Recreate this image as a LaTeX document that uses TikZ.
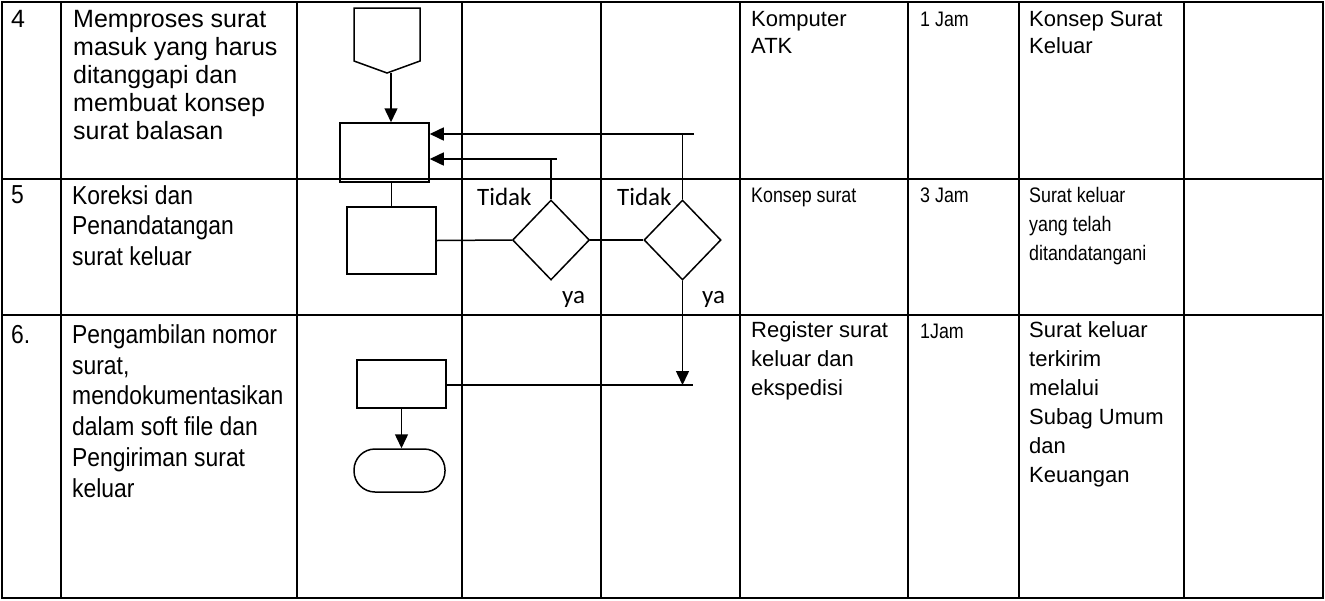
\documentclass[tikz,border=0pt]{standalone}
\usepackage{fontspec}
\setmainfont{Liberation Sans}
\newfontfamily\narrowfont[FakeStretch=0.85]{Liberation Sans}
\newfontfamily\leftnarrow[FakeStretch=0.88]{Liberation Sans}
\newfontfamily\calib{Carlito}
\usetikzlibrary{shapes.geometric,arrows.meta}
\tikzset{
  tbl/.style={line width=1.8pt},
  tblthin/.style={line width=1.1pt},
  flow/.style={line width=1.5pt},
  arr/.style={flow,-{Triangle[length=14pt,width=13pt]}},
  procbox/.style={draw, flow, rectangle, inner sep=0pt},
  dec/.style={draw, flow, diamond, inner sep=0pt, minimum width=77pt, minimum height=80pt},
  term/.style={draw, flow, rectangle, rounded corners=21pt, inner sep=0pt, minimum width=91pt, minimum height=43pt},
  txt/.style={anchor=north west, inner sep=0pt, align=left},
  one/.style={anchor=base west, inner sep=0pt},
  lbl/.style={anchor=base west, inner sep=0pt, font=\calib\fontsize{25}{30}\selectfont},
  reg25/.style={font=\fontsize{25}{28}\selectfont},
  reg22a/.style={font=\fontsize{22}{27}\selectfont},
  reg22b/.style={font=\fontsize{22}{29}\selectfont},
  nar21/.style={font=\narrowfont\fontsize{21}{29}\selectfont},
  nar26a/.style={font=\leftnarrow\fontsize{26}{30.5}\selectfont},
  nar26b/.style={font=\leftnarrow\fontsize{26}{30.8}\selectfont},
}
\begin{document}
\begin{tikzpicture}[x=1pt,y=-1pt]
\useasboundingbox (0,0) rectangle (1325,600);
% table grid
\draw[tbl] (2,2) rectangle (1323,598);
\draw[tbl] (2,179) -- (1323,179);
\draw[tbl] (2,315) -- (1323,315);
\foreach \x in {61,297,908,1019,1184} {
  \draw[tblthin] (\x,2) -- (\x,315);
  \draw[tbl] (\x,315) -- (\x,598);
}
\draw[tblthin] (462,2) -- (462,598);
\foreach \x in {601,740} {
  \draw[tblthin] (\x,2) -- (\x,315);
  \draw[tbl] (\x,315) -- (\x,598);
}
% flowchart
\draw[flow] (354,8) -- (420,8) -- (420,61) -- (387,73) -- (354,61) -- cycle;
\coordinate (op) at (391,73);
\node[procbox, minimum width=89pt, minimum height=59pt] (b1) at (384.5,152.5) {};
\node[procbox, minimum width=89pt, minimum height=67pt] (b2) at (391.5,240.5) {};
\node[dec] (d1) at (551,240) {};
\node[dec] (d2) at (682.5,240) {};
\node[procbox, minimum width=89pt, minimum height=48pt] (b3) at (401.5,384) {};
\node[term] (t) at (399.5,470.5) {};
\coordinate (t1) at (557,159);
\coordinate (t2) at (694,134);
\coordinate (t3) at (693,385);
\draw[arr] (op) -- (op |- b1.north);
\draw[flow] (b2.north |- b1.south) -- (b2.north);
\draw[flow] (b2.east) -- (d1.west);
\draw[flow] (d1.east) -- (d2.west);
\draw[flow] (d1.north) -- (d1.north |- t1);
\draw[arr] (t1) -- (b1.east |- t1);
\draw[flow] (d2.north) -- (d2.north |- t2);
\draw[arr] (t2) -- (b1.east |- t2);
\draw[arr] (d2.south) -- (d2.south |- t3);
\draw[flow] (b3.east |- t3) -- (t3);
\draw[arr] (b3.south) -- (b3.south |- t.north);
\node[lbl] (l1) at (477,205) {Tidak};
\node[lbl] (l2) at (617,205) {Tidak};
\node[lbl] (l3) at (562,303) {ya};
\node[lbl] (l4) at (702,303) {ya};
% texts row 4
\node[one, reg25] (n4) at (11,27) {4};
\node[txt, reg25] (p4) at (73,3) {\rule{0pt}{24pt}Memproses surat\\masuk yang harus\\ditanggapi dan\\membuat konsep\\surat balasan};
\node[txt, reg22a] (r4a) at (751,2) {\rule{0pt}{24pt}Komputer\\ATK};
\node[one, nar21] (r4b) at (920,26) {1 Jam};
\node[txt, reg22a] (r4c) at (1029,2) {\rule{0pt}{24pt}Konsep Surat\\Keluar};
% row 5
\node[one, nar26a] (n5) at (11,203) {5};
\node[txt, nar26a] (p5) at (72,180) {\rule{0pt}{24pt}Koreksi dan\\Penandatangan\\surat keluar};
\node[one, nar21] (r5a) at (751,202) {Konsep surat};
\node[one, nar21] (r5b) at (920,202) {3 Jam};
\node[txt, nar21] (r5c) at (1029,178) {\rule{0pt}{24pt}Surat keluar\\yang telah\\ditandatangani};
% row 6
\node[one, nar26b] (n6) at (11,343) {6.};
\node[txt, nar26b] (p6) at (72,319) {\rule{0pt}{24pt}Pengambilan nomor\\surat,\\mendokumentasikan\\dalam soft file dan\\Pengiriman surat\\keluar};
\node[txt, reg22b] (r6a) at (751,313) {\rule{0pt}{24pt}Register surat\\keluar dan\\ekspedisi};
\node[one, nar21] (r6b) at (920,338) {1Jam};
\node[txt, reg22b] (r6c) at (1029,313) {\rule{0pt}{24pt}Surat keluar\\terkirim\\melalui\\Subag Umum\\dan\\Keuangan};
\end{tikzpicture}
\end{document}
